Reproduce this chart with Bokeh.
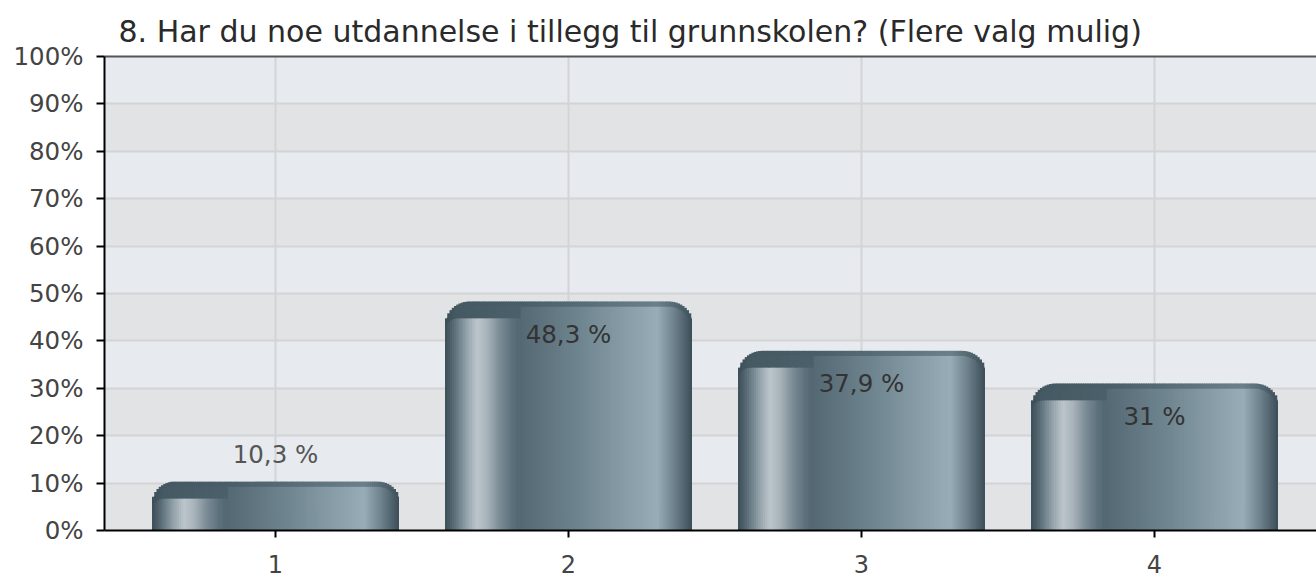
import numpy as np
from bokeh.plotting import figure
from bokeh.models import FixedTicker, LinearAxis, Range1d, ColumnDataSource, Grid
from bokeh.core.properties import value
from bokeh.embed import file_html
from bokeh.resources import INLINE

# ---------------- data ----------------
categories = ["1", "2", "3", "4"]
values = [10.3, 48.3, 37.9, 31.0]
value_labels = ["10,3 %", "48,3 %", "37,9 %", "31 %"]
y_ticks = [0, 10, 20, 30, 40, 50, 60, 70, 80, 90, 100]
y_tick_labels = ["0%", "10%", "20%", "30%", "40%", "50%", "60%", "70%", "80%", "90%", "100%"]
title_text = "8. Har du noe utdannelse i tillegg til grunnskolen? (Flere valg mulig)"

# ---------------- layout ----------------
FONT = "DejaVu Sans"
W, H = 1316, 578
BL, BR, BT, BB = 104, 0, 56, 48
frame_w = W - BL - BR
frame_h = H - BT - BB
cat_px = 293.0                      # pixel distance between categories
x0 = 1 - 171.0 / cat_px
x1 = x0 + frame_w / cat_px
px_x = cat_px                       # px per x unit
px_y = frame_h / 100.0              # px per percent

p = figure(width=W, height=H, output_backend="svg", toolbar_location=None,
           x_range=Range1d(x0, x1), y_range=Range1d(0, 100),
           min_border_left=BL, min_border_right=BR, min_border_top=BT, min_border_bottom=BB,
           x_axis_location=None, y_axis_location=None)
p.background_fill_color = "#e2e3e5"
p.border_fill_color = "white"
p.outline_line_color = None

# title
p.title.text = title_text
p.title.text_font = FONT
p.title.text_font_size = "30px"
p.title.text_font_style = "normal"
p.title.text_color = "#2a2a2a"
p.title.align = "left"
p.title.offset = 14
p.title.standoff = 15

# axes
cat_pos = [i + 1 for i in range(len(categories))]
yaxis = LinearAxis(ticker=FixedTicker(ticks=y_ticks),
                   major_label_overrides={t: l for t, l in zip(y_ticks, y_tick_labels)})
yaxis.axis_line_color = "black"
yaxis.axis_line_width = 2
yaxis.major_tick_line_color = "black"
yaxis.major_tick_line_width = 2
yaxis.major_tick_in = 0
yaxis.major_tick_out = 8
yaxis.minor_tick_line_color = None
yaxis.major_label_standoff = 13
yaxis.major_label_text_font = FONT
yaxis.major_label_text_font_size = "24.5px"
yaxis.major_label_text_color = "#444444"
p.add_layout(yaxis, "left")

xaxis = LinearAxis(ticker=FixedTicker(ticks=cat_pos),
                   major_label_overrides={c: l for c, l in zip(cat_pos, categories)})
xaxis.axis_line_color = "black"
xaxis.axis_line_width = 2
xaxis.major_tick_line_color = "black"
xaxis.major_tick_line_width = 2
xaxis.major_tick_in = 0
xaxis.major_tick_out = 7
xaxis.minor_tick_line_color = None
xaxis.major_label_standoff = 17
xaxis.major_label_text_font = FONT
xaxis.major_label_text_font_size = "24px"
xaxis.major_label_text_color = "#444444"
p.add_layout(xaxis, "below")

topaxis = LinearAxis(ticker=FixedTicker(ticks=[]), major_label_text_font_size="0px")
topaxis.axis_line_color = "#555555"
topaxis.axis_line_width = 2
topaxis.major_tick_line_color = None
topaxis.minor_tick_line_color = None
p.add_layout(topaxis, "above")

# grids
p.add_layout(Grid(dimension=1, ticker=FixedTicker(ticks=y_ticks),
                  grid_line_color="#d3d4d6", grid_line_width=2,
                  band_fill_color="#e7eaee", band_fill_alpha=1.0))
p.add_layout(Grid(dimension=0, ticker=FixedTicker(ticks=cat_pos),
                  grid_line_color="#d3d4d6", grid_line_width=2))

# ---------------- bars (strip-shaded cylinders) ----------------
def hex2rgb(h):
    h = h.lstrip("#")
    return np.array([int(h[i:i + 2], 16) for i in (0, 2, 4)], dtype=float)

def rgb2hex(c):
    c = np.clip(np.round(c), 0, 255).astype(int)
    return "#%02x%02x%02x" % tuple(c)

def interp(stops, t):
    ts = [s[0] for s in stops]
    cs = [hex2rgb(s[1]) for s in stops]
    for k in range(len(ts) - 1):
        if ts[k] <= t <= ts[k + 1]:
            f = (t - ts[k]) / (ts[k + 1] - ts[k])
            return cs[k] * (1 - f) + cs[k + 1] * f
    return cs[-1]

body_stops = [(0.0, "#3b4d57"), (0.05, "#4a5e68"), (0.30, "#536873"),
              (0.55, "#6f858f"), (0.75, "#8a9faa"), (0.86, "#97acb7"),
              (0.93, "#6c808b"), (1.0, "#3b4e58")]
hl_stops = [(0.0, "#3b4d57"), (0.04, "#5d717b"), (0.09, "#97a5ad"),
            (0.13, "#bcc5cb"), (0.17, "#a8b3ba"), (0.22, "#7c8d97"),
            (0.27, "#5d717c"), (0.30, "#536873")]
dark = hex2rgb("#3f535d")

bar_w_px = 247.0
bar_w = bar_w_px / px_x
radius_px = 24.0
cap_px = 5.0
hl_drop_px = 17.0
hl_end = 0.30
N = 110
ov_x = 1.5 / px_x          # overlap between neighbouring strips
ov_y = 1.0 / px_y

layers = {k: dict(left=[], right=[], bottom=[], top=[], color=[]) for k in ("body", "cap", "hldark", "hl")}

def add(layer, l, r, b, t, c):
    d = layers[layer]
    d["left"].append(l); d["right"].append(r); d["bottom"].append(b); d["top"].append(t); d["color"].append(c)

for ci, v in zip(cat_pos, values):
    left = ci - bar_w / 2
    rad = min(radius_px, v * px_y * 0.45)
    for j in range(N):
        t = (j + 0.5) / N
        xl = left + j * bar_w / N
        xr = left + (j + 1) * bar_w / N + (ov_x if j < N - 1 else 0)
        d = min(t, 1 - t) * bar_w_px
        top_px = v * px_y
        if d < rad:
            dd = (rad - d) / rad
            top_px -= rad * (1 - np.sqrt(max(0.0, 1 - dd * dd)))
        top = top_px / px_y
        base = interp(body_stops, t)
        cap_bottom = max(0.0, top - cap_px / px_y)
        add("body", xl, xr, 0, cap_bottom + ov_y, rgb2hex(base))
        add("cap", xl, xr, cap_bottom, top, rgb2hex(base * 0.5 + dark * 0.5))
        if t < hl_end:
            hl_top_px = v * px_y - hl_drop_px
            dh = t * bar_w_px
            rr = 12.0
            if dh < rr:
                dd = (rr - dh) / rr
                hl_top_px -= rr * (1 - np.sqrt(max(0.0, 1 - dd * dd)))
            hl_top = max(0.0, hl_top_px / px_y)
            add("hldark", xl, xr, hl_top, cap_bottom + ov_y, rgb2hex(base * 0.6 + dark * 0.4))
            add("hl", xl, xr, 0, hl_top, rgb2hex(interp(hl_stops, t)))

for k in ("body", "cap", "hldark", "hl"):
    p.quad(left="left", right="right", bottom="bottom", top="top",
           source=ColumnDataSource(layers[k]), fill_color="color", line_color=None)

# ---------------- value labels ----------------
inside = [v * px_y > 70 for v in values]
lab_src = ColumnDataSource(dict(
    x=cat_pos, y=values, text=value_labels,
    yoff=[33 if ins else -27 for ins in inside],
    color=["#333333" if ins else "#555555" for ins in inside]))
p.text(x="x", y="y", text="text", source=lab_src, y_offset="yoff",
       text_color="color", text_align="center", text_baseline="middle",
       text_font=value(FONT), text_font_size="24.5px")

open("out.html", "w").write(file_html(p, INLINE))
